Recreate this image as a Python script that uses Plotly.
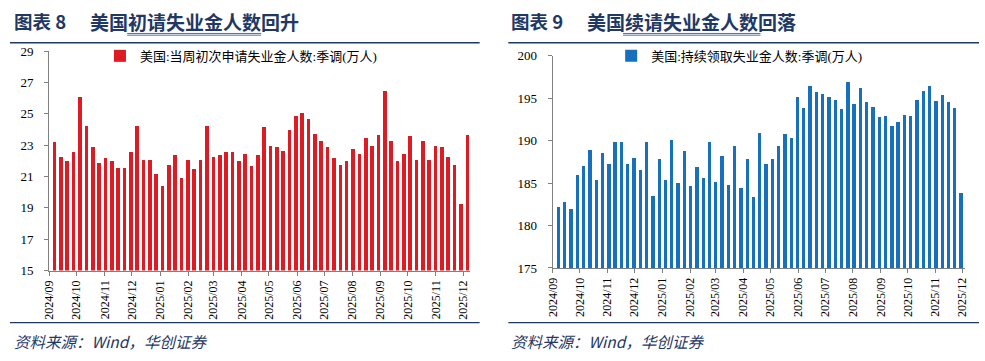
import plotly.graph_objects as go
import pandas as pd

# ---------------- data ----------------
initial_start = "2024-09-07"   # weekly, week-ending Saturday
initial_claims = [23.18, 22.24, 21.96, 22.53, 26.08, 24.24, 22.86, 21.88, 22.16, 21.96,
                  21.55, 21.55, 22.53, 24.24, 22.04, 22.04, 21.16, 20.39, 21.76, 22.37,
                  20.88, 22.04, 21.47, 22.04, 24.24, 22.24, 22.37, 22.53, 22.53, 21.96,
                  22.45, 21.67, 22.37, 24.16, 22.94, 22.86, 22.65, 23.96, 24.86, 25.06,
                  24.65, 23.73, 23.24, 22.86, 22.16, 21.76, 21.96, 22.73, 22.45, 23.45,
                  22.94, 23.65, 26.45, 23.24, 21.96, 22.45, 23.57, 22.04, 23.24, 22.04,
                  22.94, 22.86, 22.24, 21.76, 19.24, 23.65]

continuing_start = "2024-09-07"
continuing_claims = [182.22, 182.86, 182.00, 185.94, 187.03, 188.91, 185.41, 188.53, 187.33, 189.92,
                     189.85, 187.26, 188.01, 186.54, 189.85, 183.53, 187.86, 185.41, 190.11, 185.11,
                     188.76, 184.66, 186.88, 185.64, 189.85, 185.19, 188.23, 184.81, 189.44, 184.51,
                     187.93, 183.46, 190.98, 187.29, 187.86, 189.44, 190.83, 190.34, 195.23, 193.83,
                     196.50, 195.75, 195.53, 195.23, 194.77, 193.72, 196.95, 194.32, 196.20, 194.55,
                     194.02, 192.86, 192.93, 191.73, 192.26, 193.05, 192.97, 194.81, 195.83, 196.50,
                     194.74, 195.45, 194.55, 193.83, 183.91]

initial_name = "美国:当周初次申请失业金人数:季调(万人)"
continuing_name = "美国:持续领取失业金人数:季调(万人)"
title_left_no = "图表 8"
title_left = "美国初请失业金人数回升"
title_right_no = "图表 9"
title_right = "美国续请失业金人数回落"
source_text = "资料来源：Wind，华创证券"

initial_dates = pd.date_range(initial_start, periods=len(initial_claims), freq="7D")
continuing_dates = pd.date_range(continuing_start, periods=len(continuing_claims), freq="7D")

# ---------------- style ----------------
W, H = 985, 361
RED = "#DE1A22"
BLUE = "#1670BE"
NAVY = "#1F3864"
AXIS = "#808080"
SERIF = "Liberation Serif, Times New Roman, serif"
MIXED = "Liberation Serif, Noto Sans CJK SC, serif"
CJK = "Noto Sans CJK SC"
DAY = 86400000


def px(x):
    return x / W


def py(y):
    return 1 - y / H


fig = go.Figure()
fig.add_trace(go.Bar(x=initial_dates, y=initial_claims, name=initial_name,
                     marker=dict(color=RED, line=dict(width=0)), width=4 * DAY,
                     xaxis="x", yaxis="y", legend="legend"))
fig.add_trace(go.Bar(x=continuing_dates, y=continuing_claims, name=continuing_name,
                     marker=dict(color=BLUE, line=dict(width=0)), width=3.7 * DAY,
                     xaxis="x2", yaxis="y2", legend="legend2"))

xcommon = dict(type="date", dtick="M1", tickformat="%Y/%m", tickangle=-90,
               showline=True, linecolor=AXIS, linewidth=1, ticks="outside",
               ticklen=4, tickcolor=AXIS, showgrid=False, zeroline=False,
               tickfont=dict(family=SERIF, size=12, color="#000000"))
ycommon = dict(showline=True, linecolor=AXIS, linewidth=1, ticks="outside",
               ticklen=4, tickcolor=AXIS, showgrid=False, zeroline=False,
               ticklabelstandoff=8,
               tickfont=dict(family=SERIF, size=13, color="#000000"))

fig.update_layout(
    width=W, height=H,
    margin=dict(l=0, r=0, t=0, b=0),
    paper_bgcolor="white", plot_bgcolor="white",
    bargap=0,
    xaxis=dict(xcommon, domain=[px(42.7), px(468.5)], anchor="y",
               range=["2024-08-31 20:00", "2025-12-09"]),
    yaxis=dict(ycommon, domain=[py(275), py(46)], anchor="x",
               range=[15, 29], tick0=15, dtick=2),
    xaxis2=dict(xcommon, domain=[px(551.8), px(969)], anchor="y2",
                range=["2024-08-31 20:00", "2025-12-04"]),
    yaxis2=dict(ycommon, domain=[py(272.3), py(50.7)], anchor="x2",
                range=[175, 200], tick0=175, dtick=5),
    legend=dict(x=px(94), y=py(51), xanchor="left", yanchor="middle",
                bgcolor="rgba(0,0,0,0)", font=dict(family=MIXED, size=13, color="#000000"),
                itemwidth=30, tracegroupgap=0),
    legend2=dict(x=px(611), y=py(51), xanchor="left", yanchor="middle",
                 bgcolor="rgba(0,0,0,0)", font=dict(family=MIXED, size=13, color="#000000"),
                 itemwidth=30, tracegroupgap=0),
    showlegend=True,
)

ann = []
shapes = []
for x0, no, txt, ul0, ul1, lx0, lx1 in [
    (5, title_left_no, title_left, 121.5, 257, 3, 478),
    (508, title_right_no, title_right, 623, 762, 507, 983),
]:
    ann.append(dict(x=px(x0), y=py(15), xref="paper", yref="paper", xanchor="left",
                    yanchor="middle", text="<b>" + no + "</b>", showarrow=False,
                    font=dict(family=CJK, size=18.5, color=NAVY)))
    ann.append(dict(x=px(x0 + 77), y=py(15), xref="paper", yref="paper", xanchor="left",
                    yanchor="middle", text="<b>" + txt + "</b>", showarrow=False,
                    font=dict(family=CJK, size=19, color=NAVY)))
    ann.append(dict(x=px(x0), y=py(348), xref="paper", yref="paper", xanchor="left",
                    yanchor="middle", text="<i>" + source_text + "</i>", showarrow=False,
                    font=dict(family=CJK, size=15.5, color=NAVY)))
    for yy in (27.6, 29.4):
        shapes.append(dict(type="line", xref="paper", yref="paper", x0=px(ul0), x1=px(ul1),
                           y0=py(yy), y1=py(yy), line=dict(color="#3A5FA8", width=0.9)))
    for yy in (37.3, 329.3):
        shapes.append(dict(type="line", xref="paper", yref="paper", x0=px(lx0), x1=px(lx1),
                           y0=py(yy), y1=py(yy), line=dict(color=NAVY, width=1.3)))

fig.update_layout(annotations=ann, shapes=shapes)
fig.write_html("out.html", config={"displayModeBar": False},
               post_script="document.body.style.margin='0';document.body.style.overflow='hidden';")
